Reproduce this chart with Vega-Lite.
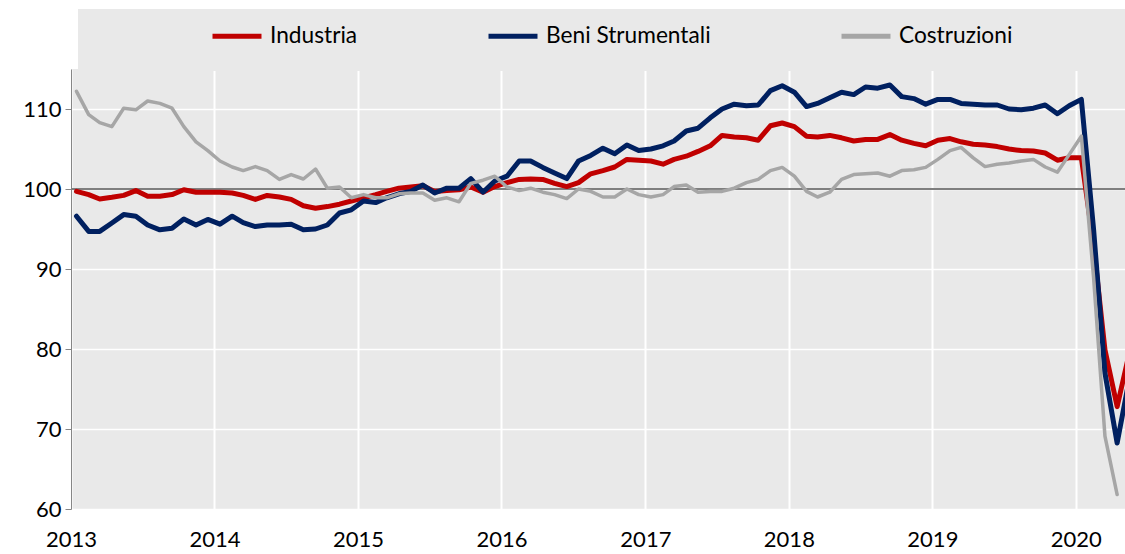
{
  "$schema": "https://vega.github.io/schema/vega-lite/v6.json",
  "width": 1054,
  "height": 440,
  "autosize": {"type": "none"},
  "padding": {"left": 71, "top": 69, "right": 0, "bottom": 45},
  "background": "white",
  "data": {"values": [
    {"d":"2013-01-15","Industria":99.7,"Beni Strumentali":96.6,"Costruzioni":112.2},
    {"d":"2013-02-15","Industria":99.3,"Beni Strumentali":94.7,"Costruzioni":109.3},
    {"d":"2013-03-15","Industria":98.75,"Beni Strumentali":94.7,"Costruzioni":108.3},
    {"d":"2013-04-15","Industria":98.96,"Beni Strumentali":95.75,"Costruzioni":107.8},
    {"d":"2013-05-15","Industria":99.2,"Beni Strumentali":96.8,"Costruzioni":110.1},
    {"d":"2013-06-15","Industria":99.8,"Beni Strumentali":96.6,"Costruzioni":109.9},
    {"d":"2013-07-15","Industria":99.1,"Beni Strumentali":95.5,"Costruzioni":111.0},
    {"d":"2013-08-15","Industria":99.1,"Beni Strumentali":94.9,"Costruzioni":110.7},
    {"d":"2013-09-15","Industria":99.3,"Beni Strumentali":95.1,"Costruzioni":110.1},
    {"d":"2013-10-15","Industria":99.9,"Beni Strumentali":96.25,"Costruzioni":107.8},
    {"d":"2013-11-15","Industria":99.6,"Beni Strumentali":95.5,"Costruzioni":105.9},
    {"d":"2013-12-15","Industria":99.6,"Beni Strumentali":96.2,"Costruzioni":104.8},
    {"d":"2014-01-15","Industria":99.6,"Beni Strumentali":95.6,"Costruzioni":103.5},
    {"d":"2014-02-15","Industria":99.5,"Beni Strumentali":96.6,"Costruzioni":102.75},
    {"d":"2014-03-15","Industria":99.2,"Beni Strumentali":95.8,"Costruzioni":102.3},
    {"d":"2014-04-15","Industria":98.7,"Beni Strumentali":95.3,"Costruzioni":102.8},
    {"d":"2014-05-15","Industria":99.2,"Beni Strumentali":95.5,"Costruzioni":102.3},
    {"d":"2014-06-15","Industria":99.0,"Beni Strumentali":95.5,"Costruzioni":101.2},
    {"d":"2014-07-15","Industria":98.7,"Beni Strumentali":95.6,"Costruzioni":101.8},
    {"d":"2014-08-15","Industria":97.9,"Beni Strumentali":94.9,"Costruzioni":101.25},
    {"d":"2014-09-15","Industria":97.6,"Beni Strumentali":95.0,"Costruzioni":102.5},
    {"d":"2014-10-15","Industria":97.8,"Beni Strumentali":95.5,"Costruzioni":100.1},
    {"d":"2014-11-15","Industria":98.1,"Beni Strumentali":97.0,"Costruzioni":100.25},
    {"d":"2014-12-15","Industria":98.5,"Beni Strumentali":97.4,"Costruzioni":98.9},
    {"d":"2015-01-15","Industria":98.9,"Beni Strumentali":98.5,"Costruzioni":99.3},
    {"d":"2015-02-15","Industria":99.3,"Beni Strumentali":98.3,"Costruzioni":98.9},
    {"d":"2015-03-15","Industria":99.7,"Beni Strumentali":98.9,"Costruzioni":98.9},
    {"d":"2015-04-15","Industria":100.1,"Beni Strumentali":99.4,"Costruzioni":99.4},
    {"d":"2015-05-15","Industria":100.25,"Beni Strumentali":99.7,"Costruzioni":99.5},
    {"d":"2015-06-15","Industria":100.4,"Beni Strumentali":100.5,"Costruzioni":99.5},
    {"d":"2015-07-15","Industria":99.7,"Beni Strumentali":99.5,"Costruzioni":98.6},
    {"d":"2015-08-15","Industria":99.8,"Beni Strumentali":100.1,"Costruzioni":98.9},
    {"d":"2015-09-15","Industria":99.9,"Beni Strumentali":100.1,"Costruzioni":98.4},
    {"d":"2015-10-15","Industria":100.25,"Beni Strumentali":101.3,"Costruzioni":100.7},
    {"d":"2015-11-15","Industria":99.6,"Beni Strumentali":99.6,"Costruzioni":101.1},
    {"d":"2015-12-15","Industria":100.3,"Beni Strumentali":101.0,"Costruzioni":101.6},
    {"d":"2016-01-15","Industria":100.8,"Beni Strumentali":101.6,"Costruzioni":100.25},
    {"d":"2016-02-15","Industria":101.2,"Beni Strumentali":103.5,"Costruzioni":99.8},
    {"d":"2016-03-15","Industria":101.25,"Beni Strumentali":103.5,"Costruzioni":100.1},
    {"d":"2016-04-15","Industria":101.2,"Beni Strumentali":102.7,"Costruzioni":99.6},
    {"d":"2016-05-15","Industria":100.7,"Beni Strumentali":102.0,"Costruzioni":99.3},
    {"d":"2016-06-15","Industria":100.3,"Beni Strumentali":101.3,"Costruzioni":98.8},
    {"d":"2016-07-15","Industria":100.8,"Beni Strumentali":103.5,"Costruzioni":100.0},
    {"d":"2016-08-15","Industria":101.9,"Beni Strumentali":104.2,"Costruzioni":99.7},
    {"d":"2016-09-15","Industria":102.3,"Beni Strumentali":105.1,"Costruzioni":99.0},
    {"d":"2016-10-15","Industria":102.75,"Beni Strumentali":104.4,"Costruzioni":99.0},
    {"d":"2016-11-15","Industria":103.7,"Beni Strumentali":105.5,"Costruzioni":100.0},
    {"d":"2016-12-15","Industria":103.6,"Beni Strumentali":104.8,"Costruzioni":99.3},
    {"d":"2017-01-15","Industria":103.5,"Beni Strumentali":105.0,"Costruzioni":99.0},
    {"d":"2017-02-15","Industria":103.1,"Beni Strumentali":105.4,"Costruzioni":99.3},
    {"d":"2017-03-15","Industria":103.7,"Beni Strumentali":106.0,"Costruzioni":100.3},
    {"d":"2017-04-15","Industria":104.1,"Beni Strumentali":107.25,"Costruzioni":100.5},
    {"d":"2017-05-15","Industria":104.7,"Beni Strumentali":107.6,"Costruzioni":99.6},
    {"d":"2017-06-15","Industria":105.4,"Beni Strumentali":108.9,"Costruzioni":99.7},
    {"d":"2017-07-15","Industria":106.7,"Beni Strumentali":110.0,"Costruzioni":99.7},
    {"d":"2017-08-15","Industria":106.5,"Beni Strumentali":110.6,"Costruzioni":100.1},
    {"d":"2017-09-15","Industria":106.4,"Beni Strumentali":110.4,"Costruzioni":100.8},
    {"d":"2017-10-15","Industria":106.1,"Beni Strumentali":110.5,"Costruzioni":101.2},
    {"d":"2017-11-15","Industria":107.9,"Beni Strumentali":112.3,"Costruzioni":102.3},
    {"d":"2017-12-15","Industria":108.25,"Beni Strumentali":112.9,"Costruzioni":102.7},
    {"d":"2018-01-15","Industria":107.8,"Beni Strumentali":112.1,"Costruzioni":101.6},
    {"d":"2018-02-15","Industria":106.6,"Beni Strumentali":110.3,"Costruzioni":99.7},
    {"d":"2018-03-15","Industria":106.5,"Beni Strumentali":110.7,"Costruzioni":99.0},
    {"d":"2018-04-15","Industria":106.7,"Beni Strumentali":111.4,"Costruzioni":99.6},
    {"d":"2018-05-15","Industria":106.4,"Beni Strumentali":112.1,"Costruzioni":101.2},
    {"d":"2018-06-15","Industria":106.0,"Beni Strumentali":111.8,"Costruzioni":101.8},
    {"d":"2018-07-15","Industria":106.2,"Beni Strumentali":112.75,"Costruzioni":101.9},
    {"d":"2018-08-15","Industria":106.2,"Beni Strumentali":112.6,"Costruzioni":102.0},
    {"d":"2018-09-15","Industria":106.8,"Beni Strumentali":113.0,"Costruzioni":101.6},
    {"d":"2018-10-15","Industria":106.1,"Beni Strumentali":111.55,"Costruzioni":102.3},
    {"d":"2018-11-15","Industria":105.7,"Beni Strumentali":111.3,"Costruzioni":102.4},
    {"d":"2018-12-15","Industria":105.4,"Beni Strumentali":110.6,"Costruzioni":102.7},
    {"d":"2019-01-15","Industria":106.1,"Beni Strumentali":111.2,"Costruzioni":103.7},
    {"d":"2019-02-15","Industria":106.3,"Beni Strumentali":111.2,"Costruzioni":104.8},
    {"d":"2019-03-15","Industria":105.9,"Beni Strumentali":110.7,"Costruzioni":105.2},
    {"d":"2019-04-15","Industria":105.6,"Beni Strumentali":110.6,"Costruzioni":103.9},
    {"d":"2019-05-15","Industria":105.5,"Beni Strumentali":110.5,"Costruzioni":102.8},
    {"d":"2019-06-15","Industria":105.3,"Beni Strumentali":110.5,"Costruzioni":103.1},
    {"d":"2019-07-15","Industria":105.0,"Beni Strumentali":110.0,"Costruzioni":103.25},
    {"d":"2019-08-15","Industria":104.8,"Beni Strumentali":109.9,"Costruzioni":103.5},
    {"d":"2019-09-15","Industria":104.75,"Beni Strumentali":110.1,"Costruzioni":103.7},
    {"d":"2019-10-15","Industria":104.5,"Beni Strumentali":110.5,"Costruzioni":102.75},
    {"d":"2019-11-15","Industria":103.6,"Beni Strumentali":109.4,"Costruzioni":102.1},
    {"d":"2019-12-15","Industria":103.9,"Beni Strumentali":110.4,"Costruzioni":104.3},
    {"d":"2020-01-15","Industria":103.9,"Beni Strumentali":111.2,"Costruzioni":106.6},
    {"d":"2020-02-15","Industria":93.0,"Beni Strumentali":95.0,"Costruzioni":89.0},
    {"d":"2020-03-15","Industria":79.9,"Beni Strumentali":77.0,"Costruzioni":69.1},
    {"d":"2020-04-15","Industria":72.8,"Beni Strumentali":68.25,"Costruzioni":61.8},
    {"d":"2020-05-15","Industria":79.3,"Beni Strumentali":76.0,"Costruzioni":null}
  ]},
  "transform": [
    {"fold": ["Industria", "Beni Strumentali", "Costruzioni"], "as": ["serie", "valore"]}
  ],
  "encoding": {
    "x": {
      "field": "d", "type": "temporal",
      "scale": {"type": "utc", "domain": ["2013-01-01T00:00:00Z", "2020-05-05T00:00:00Z"], "nice": false},
      "axis": {
        "title": null, "format": "%Y", "tickCount": {"interval": "year", "step": 1},
        "domain": false, "ticks": false, "grid": true, "gridColor": "#FFFFFF", "gridWidth": 2,
        "labelFont": "Lato", "labelFontSize": 22, "labelColor": "#000000", "labelPadding": 20,
        "labelDx": 5, "labelAlign": "center", "labelFlush": false, "labelOverlap": false, "labelBound": false
      }
    },
    "y": {
      "field": "valore", "type": "quantitative",
      "scale": {"domain": [60, 115], "nice": false, "zero": false},
      "axis": {
        "title": null, "values": [60, 70, 80, 90, 100, 110],
        "domain": true, "domainColor": "#868686", "domainWidth": 1,
        "ticks": true, "tickColor": "#868686", "tickSize": 6, "tickWidth": 1,
        "grid": true, "gridColor": "#FFFFFF", "gridWidth": 1.5,
        "labelFont": "Lato", "labelFontSize": 22, "labelColor": "#000000", "labelPadding": 4
      }
    },
    "color": {
      "field": "serie", "type": "nominal",
      "scale": {
        "domain": ["Industria", "Beni Strumentali", "Costruzioni", "\u00a0"],
        "range": ["#C00000", "#002060", "#A6A6A6", "rgba(0,0,0,0)"]
      },
      "legend": {
        "orient": "none", "legendX": 7, "legendY": -60, "direction": "horizontal",
        "fillColor": "#E9E9E9", "padding": 0, "columnPadding": 120,
        "symbolType": "M-1,-1M-1,0L1,0M1,1", "symbolSize": 2400, "symbolStrokeWidth": 5,
        "symbolFillColor": "transparent",
        "labelFont": "Lato", "labelFontSize": 22.7, "labelColor": "#000000", "labelOffset": 6,
        "labelLimit": 400,
        "title": "Legenda grafico",
        "titleOrient": "left", "titleFont": "DejaVu Sans Mono", "titleFontSize": 14, "titlePadding": 5,
        "titleLimit": 400, "titleColor": "rgba(0,0,0,0)"
      }
    }
  },
  "layer": [
    {
      "mark": {"type": "rule", "color": "#7F7F7F", "strokeWidth": 1.5},
      "encoding": {"y": {"datum": 100}, "x": {"value": 0}, "x2": {"value": 1054}, "color": {"value": "#7F7F7F"}}
    },
    {
      "transform": [{"filter": "datum.serie === 'Industria'"}],
      "mark": {"type": "line", "strokeWidth": 5, "clip": true, "strokeJoin": "round", "strokeCap": "round"}
    },
    {
      "transform": [{"filter": "datum.serie === 'Beni Strumentali'"}],
      "mark": {"type": "line", "strokeWidth": 5, "clip": true, "strokeJoin": "round", "strokeCap": "round"}
    },
    {
      "transform": [{"filter": "datum.serie === 'Costruzioni'"}],
      "mark": {"type": "line", "strokeWidth": 3.5, "clip": true, "strokeJoin": "round", "strokeCap": "round"}
    }
  ],
  "config": {
    "view": {"fill": "#E9E9E9", "stroke": null}
  }
}
